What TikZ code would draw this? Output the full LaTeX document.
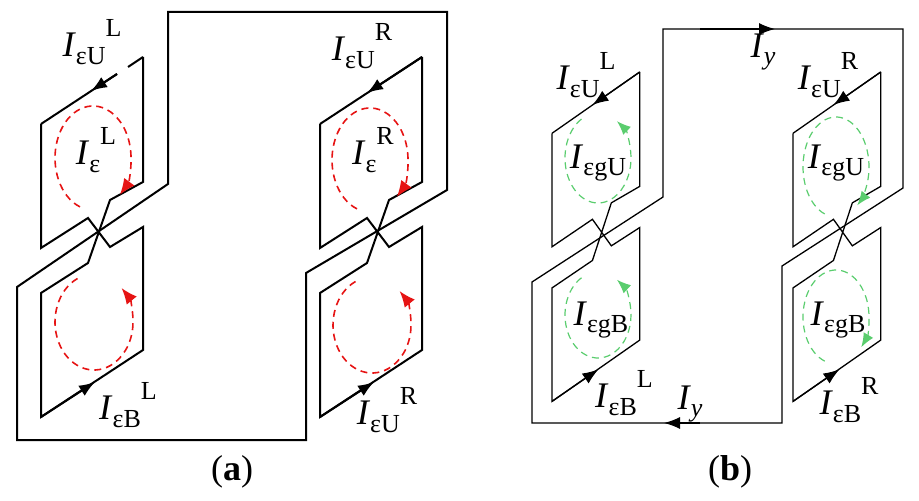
\documentclass[tikz,border=0pt]{standalone}
\usepackage{fontspec}
\setmainfont{Liberation Serif}
\usetikzlibrary{arrows.meta}

\definecolor{loopred}{RGB}{230,20,20}
\definecolor{loopgreen}{RGB}{90,205,110}

% current label: italic I, upright subscript, raised superscript
\newcommand{\cur}[2]{\textit{I}\raisebox{-0.45ex}{\fontsize{13}{13}\selectfont #1}\raisebox{1.25ex}{\fontsize{13}{13}\selectfont #2}}

% figure-eight coil without its top edge; #3 draws the top edge
\newcommand{\coil}[3]{%
  \begin{scope}[shift={(#1)},#2]
    \draw (102,0) -- (102,125) -- (69,143) -- (47,206) -- (0,236) -- (0,360)
          -- (102,293) -- (102,170) -- (69,190) -- (47,161) -- (0,191) -- (0,67);
    \draw [-{Latex[length=8pt,width=6pt]}] (0,360) -- (54,325);
    #3
  \end{scope}}

\begin{document}
\begin{tikzpicture}[x=0.5pt, y=-0.5pt, font=\fontsize{18}{20}\selectfont,
    tip/.style={-{Latex[length=8pt,width=6pt]}},
    redloop/.style={loopred, line width=0.8pt, dash pattern=on 3.5pt off 2.5pt, -{Latex[length=8pt,width=6.5pt]}},
    greenloop/.style={loopgreen, line width=0.6pt, dash pattern=on 3.5pt off 2.5pt, -{Latex[length=7pt,width=5.5pt]}}]
    \useasboundingbox (0,0) rectangle (919,501);

    % (a)
    \begin{scope}[line width=1pt]
        \coil{41,57}{}{%
            \draw (87,10) -- (102,0);
            \draw (76,17) -- (0,67);
            \draw [tip] (76,17) -- (50,34);}
        \coil{320,57}{}{%
            \draw (102,0) -- (0,67);
            \draw [tip] (102,0) -- (47,36);}
        \draw (17,287) -- (168,184) -- (168,12) -- (447,12) -- (447,190)
              -- (306,273) -- (306,440) -- (17,440) -- cycle;
    \end{scope}
    \draw [redloop] (93,158) ++(110:38 and 52) arc [start angle=110, end angle=405, x radius=38, y radius=52];
    \draw [redloop] (94,322) ++(245:39 and 48) arc [start angle=245, end angle=-45, x radius=39, y radius=48];
    \draw [redloop] (370,160) ++(110:38 and 52) arc [start angle=110, end angle=405, x radius=38, y radius=52];
    \draw [redloop] (372,325) ++(245:39 and 48) arc [start angle=245, end angle=-45, x radius=39, y radius=48];
    \node (uL) at (92,42) {\cur{εU}{L}};
    \node (mL) at (96,150) {\cur{ε}{L}};
    \node (bL) at (128,405) {\cur{εB}{L}};
    \node (uR) at (362,46) {\cur{εU}{R}};
    \node (mR) at (373,150) {\cur{ε}{R}};
    \node (bR) at (387,410) {\cur{εU}{R}};
    \node (capA) at (232,472) {(\textbf{a})};

    % (b)
    \begin{scope}[line width=0.65pt]
        \coil{552,72}{xscale=0.86, yscale=0.915}{%
            \draw (102,0) -- (0,67);
            \draw [tip] (102,0) -- (47,36);}
        \coil{793,72}{xscale=0.86, yscale=0.915}{%
            \draw (102,0) -- (0,67);
            \draw [tip] (102,0) -- (47,36);}
        \draw (532,282) -- (663,197) -- (663,29) -- (903,29) -- (903,188)
              -- (782,266) -- (782,423) -- (532,423) -- cycle;
        \coordinate (topA) at (700,29);
        \coordinate (topB) at (775,29);
        \coordinate (botA) at (700,423);
        \coordinate (botB) at (664,423);
        \draw [tip] (topA) -- (topB);
        \draw [tip] (botA) -- (botB);
    \end{scope}
    \draw [greenloop] (598,158) ++(240:33 and 45) arc [start angle=240, end angle=-55, x radius=33, y radius=45];
    \draw [greenloop] (598,315) ++(240:33 and 43) arc [start angle=240, end angle=-55, x radius=33, y radius=43];
    \draw [greenloop] (836,167) ++(110:33 and 50) arc [start angle=110, end angle=410, x radius=33, y radius=50];
    \draw [greenloop] (836,317) ++(110:33 and 47) arc [start angle=110, end angle=400, x radius=33, y radius=47];
    \node (Iy1) at (763,52) {\textit{I}\raisebox{-0.45ex}{\textit{\fontsize{13}{13}\selectfont y}}};
    \node (Iy2) at (690,404) {\textit{I}\raisebox{-0.45ex}{\textit{\fontsize{13}{13}\selectfont y}}};
    \node (uLb) at (586,75) {\cur{εU}{L}};
    \node (gUL) at (598,163) {\cur{εgU}{}};
    \node (gBL) at (601,320) {\cur{εgB}{}};
    \node (bLb) at (624,393) {\cur{εB}{L}};
    \node (uRb) at (828,75) {\cur{εU}{R}};
    \node (gUR) at (836,163) {\cur{εgU}{}};
    \node (gBR) at (838,320) {\cur{εgB}{}};
    \node (bRb) at (849,400) {\cur{εB}{R}};
    \node (capB) at (730,472) {(\textbf{b})};
\end{tikzpicture}
\end{document}
